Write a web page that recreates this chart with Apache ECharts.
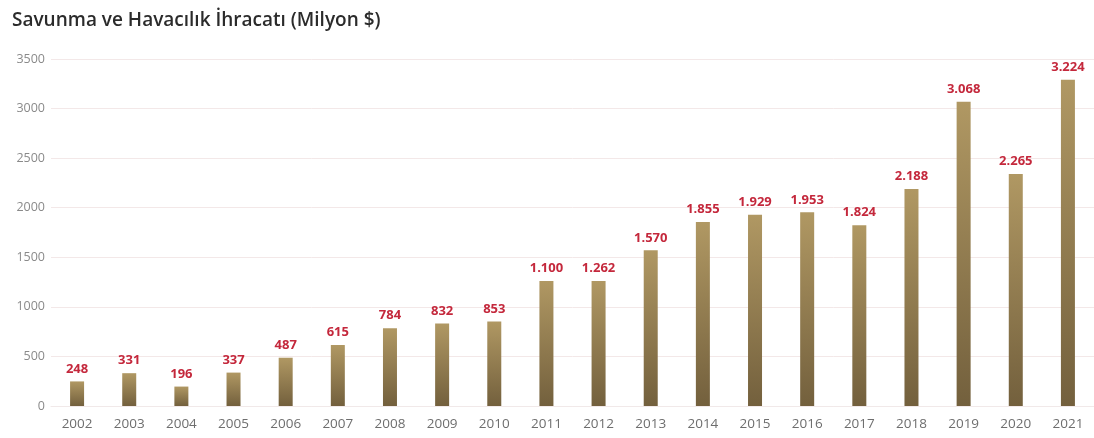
<!DOCTYPE html>
<html>
<head>
<meta charset="utf-8">
<script src="https://cdn.jsdelivr.net/npm/echarts@6/dist/echarts.min.js"></script>
<style>
html,body{margin:0;padding:0;background:#fff;}
#c{width:1094px;height:438px;}
</style>
</head>
<body>
<div id="c"></div>
<script>
const years = ['2002','2003','2004','2005','2006','2007','2008','2009','2010','2011','2012','2013','2014','2015','2016','2017','2018','2019','2020','2021'];
// bar heights
const barValues = [248, 331, 196, 337, 487, 615, 784, 832, 853, 1262, 1262, 1570, 1855, 1929, 1953, 1824, 2188, 3068, 2340, 3290];
// value labels printed above the bars
const labelTexts = ['248','331','196','337','487','615','784','832','853','1.100','1.262','1.570','1.855','1.929','1.953','1.824','2.188','3.068','2.265','3.224'];
const yTicks = [0, 500, 1000, 1500, 2000, 2500, 3000, 3500];

const chart = echarts.init(document.getElementById('c'));
chart.setOption({
  backgroundColor: '#ffffff',
  animation: false,
  title: {
    text: 'Savunma ve Havacılık İhracatı (Milyon $)',
    left: 7, top: 6,
    textStyle: { fontFamily: 'Open Sans', fontSize: 19, fontWeight: 600, color: '#2b2b2b' }
  },
  grid: { left: 51, top: 59, width: 1049, bottom: 32, containLabel: false },
  xAxis: {
    type: 'category',
    data: years,
    axisLine: { show: true, lineStyle: { color: '#f1e9e9' } },
    axisTick: { show: false },
    axisLabel: { color: '#6e6e6e', fontFamily: 'Open Sans', fontSize: 13.5, margin: 11 }
  },
  yAxis: {
    type: 'value',
    min: yTicks[0], max: yTicks[yTicks.length - 1], interval: 500,
    axisLine: { show: false },
    axisTick: { show: false },
    axisLabel: { color: '#8a8a8a', fontFamily: 'Open Sans', fontSize: 12.5, margin: 6, formatter: v => String(v) },
    splitLine: { lineStyle: { color: '#f3e8e8', width: 1 } }
  },
  series: [{
    type: 'bar',
    data: barValues,
    barWidth: 14,
    itemStyle: {
      color: new echarts.graphic.LinearGradient(0, 0, 0, 1, [
        { offset: 0, color: '#b09863' },
        { offset: 1, color: '#73603d' }
      ])
    },
    label: {
      show: true,
      position: 'top',
      distance: 6,
      color: '#c4283c',
      fontFamily: 'Open Sans',
      fontWeight: 'bold',
      fontSize: 13,
      formatter: p => labelTexts[p.dataIndex]
    }
  }]
});
</script>
</body>
</html>
